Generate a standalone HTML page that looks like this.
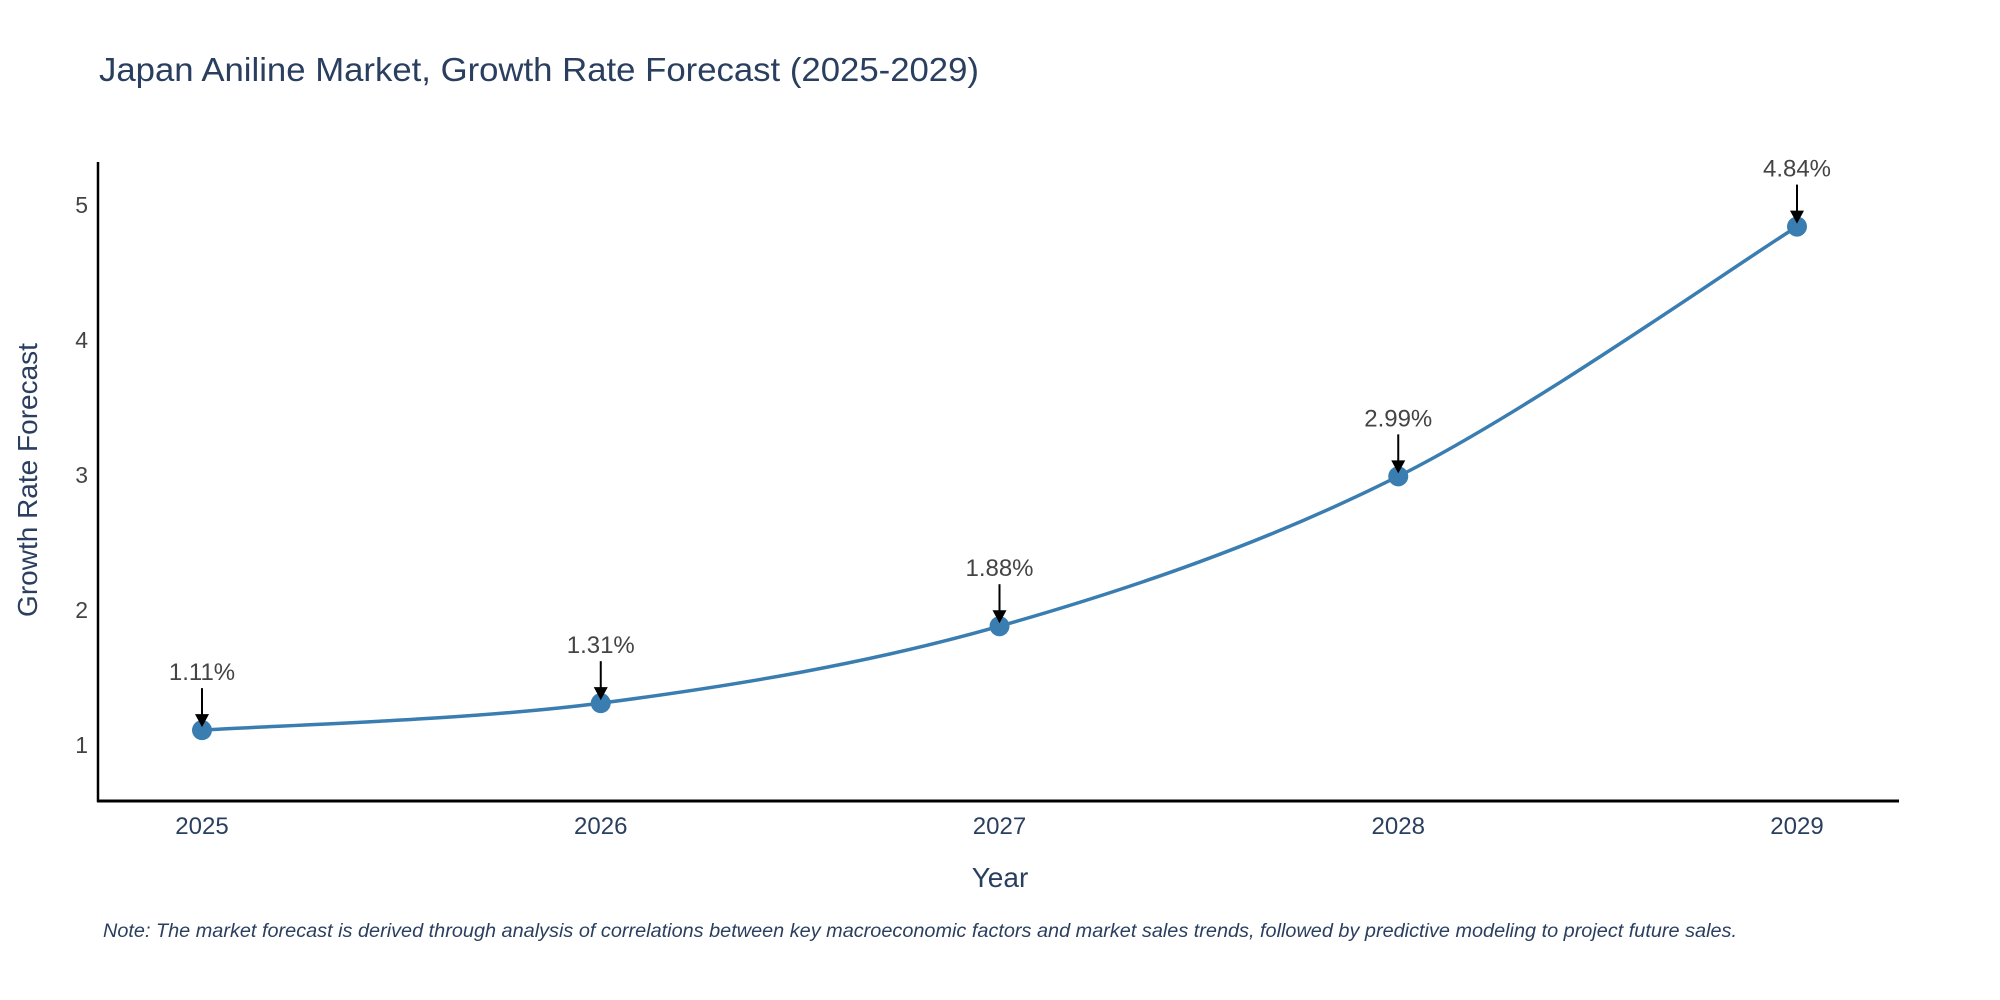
<!DOCTYPE html>
<html><head><meta charset="utf-8"><style>
html,body{margin:0;padding:0;background:#fff;}
svg{display:block;font-family:"Liberation Sans",sans-serif;}
</style></head><body>
<svg id="chart" width="2000" height="1000" viewBox="0 0 2000 1000">
<text x="99" y="81" font-size="33" fill="#2a3f5f" textLength="880" lengthAdjust="spacingAndGlyphs">Japan Aniline Market, Growth Rate Forecast (2025-2029)</text>
<g id="axes"></g>
<g id="series"></g>
<g id="annots"></g>
<text x="1000" y="887" font-size="28" fill="#2a3f5f" text-anchor="middle">Year</text>
<text transform="translate(37,480) rotate(-90)" font-size="28" fill="#2a3f5f" text-anchor="middle">Growth Rate Forecast</text>
<text x="103" y="937" font-size="19" font-style="italic" fill="#2a3f5f" textLength="1634" lengthAdjust="spacingAndGlyphs">Note: The market forecast is derived through analysis of correlations between key macroeconomic factors and market sales trends, followed by predictive modeling to project future sales.</text>
</svg>
<script>
const years = [2025, 2026, 2027, 2028, 2029];
const growth = [1.11, 1.31, 1.88, 2.99, 4.84];
const labels = ["1.11%", "1.31%", "1.88%", "2.99%", "4.84%"];
const yTicks = [1, 2, 3, 4, 5];

const NS = "http://www.w3.org/2000/svg";
const X0 = 202, XSTEP = 398.75, Y1 = 745, YUNIT = 135;
function xs(yr){ return X0 + (yr - years[0]) * XSTEP; }
function ys(v){ return Y1 - (v - 1) * YUNIT; }
function mk(tag, attrs, parent){ const e=document.createElementNS(NS,tag); for(const k in attrs) e.setAttribute(k,attrs[k]); parent.appendChild(e); return e; }

const axes = document.getElementById('axes');
const yl = mk('line',{x1:98,y1:162,x2:98,y2:802,stroke:'#000','stroke-width':2.5},axes);


const xl = mk('line',{x1:97,y1:801,x2:1899,y2:801,stroke:'#000','stroke-width':3},axes);


yTicks.forEach(t=>{
  const tx = mk('text',{x:88,y:ys(t)+8,'font-size':23,fill:'#444','text-anchor':'end'},axes);
  tx.textContent = t;
  
  
});
years.forEach(yr=>{
  const tx = mk('text',{x:xs(yr),y:834,'font-size':24,fill:'#2a3f5f','text-anchor':'middle'},axes);
  tx.textContent = yr;
  
  
});

const series = document.getElementById('series');
const pts = years.map((yr,i)=>[xs(yr), ys(growth[i])]);
let d = `M${pts[0][0]},${pts[0][1]}`;
const tension = 0.5;
for(let i=0;i<pts.length-1;i++){
  const p0=pts[Math.max(i-1,0)], p1=pts[i], p2=pts[i+1], p3=pts[Math.min(i+2,pts.length-1)];
  const c1=[p1[0]+(p2[0]-p0[0])*tension/3, p1[1]+(p2[1]-p0[1])*tension/3];
  const c2=[p2[0]-(p3[0]-p1[0])*tension/3, p2[1]-(p3[1]-p1[1])*tension/3];
  d += ` C${c1[0]},${c1[1]} ${c2[0]},${c2[1]} ${p2[0]},${p2[1]}`;
}
const line = mk('path',{d:d,fill:'none',stroke:'#3a7db1','stroke-width':3.5},series);


pts.forEach((p,i)=>{
  const c = mk('circle',{cx:p[0],cy:p[1],r:10,fill:'#3a7db1'},series);
  
  
});

const an = document.getElementById('annots');
pts.forEach((p,i)=>{
  const g = mk('g',{},an);
  
  
  mk('line',{x1:p[0],y1:p[1]-42,x2:p[0],y2:p[1]-12,stroke:'#000','stroke-width':2},g);
  mk('polygon',{points:`${p[0]-7},${p[1]-16} ${p[0]+7},${p[1]-16} ${p[0]},${p[1]-3}`,fill:'#000'},g);
  const t = mk('text',{x:p[0],y:p[1]-50,'font-size':24,fill:'#444','text-anchor':'middle'},g);
  t.textContent = labels[i];
});
</script>
</body></html>
